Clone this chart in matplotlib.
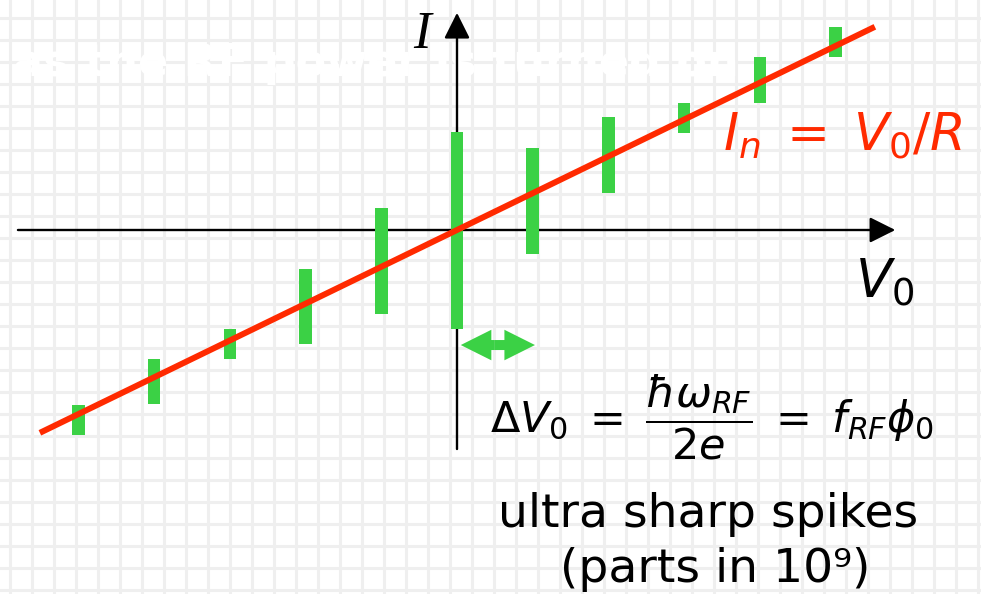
import numpy as np
import matplotlib.pyplot as plt
from matplotlib.patches import FancyArrowPatch

plt.rcParams['mathtext.fontset'] = 'custom'
plt.rcParams['mathtext.rm'] = 'DejaVu Sans'
plt.rcParams['mathtext.it'] = 'DejaVu Sans:italic'
plt.rcParams['mathtext.bf'] = 'DejaVu Sans:bold'

# quantised voltage steps (units of f_RF * phi_0) and the spike extents in current
v_steps = [-5, -4, -3, -2, -1, 0, 1, 2, 3, 4, 5]
spike_top = [-4.76, -3.51, -2.69, -1.06, 0.60, 2.66, 2.23, 3.07, 3.45, 4.70, 5.52]
spike_bottom = [-5.57, -4.73, -3.51, -3.10, -2.28, -2.69, -0.65, 1.01, 2.64, 3.45, 4.70]

# normal-state branch I_n = V_0 / R
R = 1.0
v_ohmic = np.array([-5.51, 5.52])

RED = '#ff2a00'
GREEN = '#3bd145'

W, H = 981, 594
fig = plt.figure(figsize=(W / 100, H / 100), dpi=100)


def fx(px):
    return px / W


def fy(py):
    return 1 - py / H


# graph paper behind everything
bg = fig.add_axes([0, 0, 1, 1], zorder=0)
bg.set_xlim(0, W)
bg.set_ylim(H, 0)
bg.axis('off')
for x in np.arange(9.5, W, 22):
    bg.axvline(x, color='#efefef', lw=2.2)
for y in np.arange(-4, H, 22):
    bg.axhline(y, color='#efefef', lw=2.2)
bg.text(13, 76, 'as the RF power is turned on', color='white', fontsize=32,
        fontweight='bold', va='baseline')

ax = fig.add_axes([0, 0, 1, 1], zorder=1)
ax.patch.set_alpha(0)
ax.set_xlim(-457 / 75.7, (W - 457) / 75.7)
ax.set_ylim(-(H - 230) / 36.81, 230 / 36.81)
ax.axis('off')

# axes with arrow heads
axis_arrow = dict(arrowstyle='-|>,head_length=1.58,head_width=0.79', mutation_scale=10,
                  color='black', lw=1.7, shrinkA=0, shrinkB=0)
ax.annotate('', xy=(5.79, 0), xytext=(-5.80, 0), arrowprops=axis_arrow, zorder=2)
ax.annotate('', xy=(0, 5.90), xytext=(0, -5.95), arrowprops=axis_arrow, zorder=2)

# spikes at each step
heights = np.array(spike_top) - np.array(spike_bottom)
ax.bar(v_steps, heights, bottom=spike_bottom, width=0.165, color=GREEN, zorder=3)

ax.plot(v_ohmic, v_ohmic / R, color=RED, lw=4.3, zorder=4, solid_capstyle='butt')

# step spacing arrow
mid = (v_steps[5] + v_steps[6]) / 2
for end in (0.05, 1.03):
    ax.add_patch(FancyArrowPatch((mid, -3.125), (end, -3.125),
                                 arrowstyle='simple,head_length=2.2,head_width=2.2,tail_width=0.72',
                                 mutation_scale=10, color=GREEN, lw=0, zorder=3,
                                 shrinkA=0, shrinkB=0))

fig.text(fx(422), fy(48), 'I', fontsize=38, family='Liberation Serif', style='italic',
         ha='center', va='baseline', zorder=5)
fig.text(fx(855), fy(298), r'$V_{\mathit{0}}$', fontsize=38, ha='left', va='baseline')
fig.text(fx(723), fy(150), r'$I_n\;=\;V_{\mathit{0}}/R$', fontsize=37, color=RED,
         ha='left', va='baseline')
fig.text(fx(490), fy(432), r'$\Delta V_0\;=\;\dfrac{\hbar\omega_{RF}}{2e}\;=\;f_{RF}\phi_0$',
         fontsize=31, ha='left', va='baseline')
fig.text(fx(708), fy(527), 'ultra sharp spikes', fontsize=34, ha='center', va='baseline')
fig.text(fx(715), fy(582), '(parts in 10⁹)', fontsize=34, ha='center', va='baseline')

fig.savefig('out.png', dpi=100)
